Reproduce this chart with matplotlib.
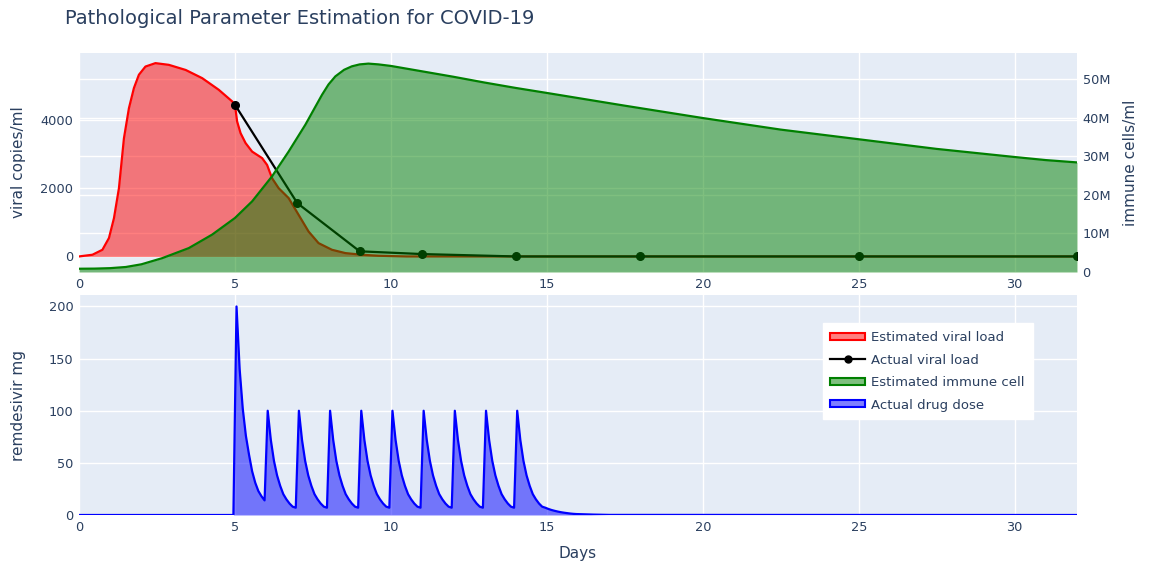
import matplotlib
matplotlib.use('Agg')
import matplotlib.pyplot as plt
from matplotlib.patches import Patch
from matplotlib.lines import Line2D
from matplotlib.ticker import FuncFormatter

# estimated viral load (copies/ml)
viral_days = [0, 0.43, 0.75, 0.96, 1.12, 1.28, 1.44, 1.60, 1.76, 1.92, 2.13, 2.45, 2.88,
              3.42, 3.95, 4.48, 4.91, 5.0, 5.07, 5.18, 5.34, 5.55, 5.87, 6.03, 6.19, 6.40,
              6.72, 7.04, 7.36, 7.68, 8.11, 8.54, 9.07, 9.6, 10.5, 32]
viral_est = [0, 50, 195, 540, 1120, 2000, 3460, 4340, 4930, 5320, 5560, 5660, 5610,
             5460, 5220, 4880, 4540, 4440, 3950, 3610, 3320, 3070, 2880, 2680, 2290, 2000,
             1710, 1220, 730, 390, 195, 98, 49, 20, 0, 0]

# measured viral load
actual_days = [5, 7, 9, 11, 14, 18, 25, 32]
actual_viral = [4440, 1560, 150, 70, 0, 0, 0, 0]

# estimated immune cells (millions / ml)
immune_days = [0, 0.5, 1.0, 1.5, 2.0, 2.67, 3.52, 4.27, 5.0, 5.55, 6.19, 6.72, 7.26, 7.79,
               8.0, 8.22, 8.5, 8.75, 9.0, 9.28, 9.6, 10, 11, 12, 13, 14, 15, 17.5, 20,
               22.5, 25, 27.5, 30, 31, 32]
immune_est = [0.85, 0.88, 1.0, 1.3, 2.0, 3.6, 6.2, 9.7, 14.0, 18.3, 24.8, 31.2, 38.2, 45.9,
              48.6, 50.7, 52.4, 53.3, 53.8, 54.0, 53.8, 53.4, 52.0, 50.6, 49.1, 47.7, 46.4,
              43.1, 39.9, 36.9, 34.4, 31.9, 29.8, 29.0, 28.4]

# remdesivir dose (mg)
dose_days = [0, 4.95,
             5.05, 5.15, 5.25, 5.35, 5.45, 5.55, 5.65, 5.75, 5.85, 5.95,
             6.05, 6.15, 6.25, 6.35, 6.45, 6.55, 6.65, 6.75, 6.85, 6.95,
             7.05, 7.15, 7.25, 7.35, 7.45, 7.55, 7.65, 7.75, 7.85, 7.95,
             8.05, 8.15, 8.25, 8.35, 8.45, 8.55, 8.65, 8.75, 8.85, 8.95,
             9.05, 9.15, 9.25, 9.35, 9.45, 9.55, 9.65, 9.75, 9.85, 9.95,
             10.05, 10.15, 10.25, 10.35, 10.45, 10.55, 10.65, 10.75, 10.85, 10.95,
             11.05, 11.15, 11.25, 11.35, 11.45, 11.55, 11.65, 11.75, 11.85, 11.95,
             12.05, 12.15, 12.25, 12.35, 12.45, 12.55, 12.65, 12.75, 12.85, 12.95,
             13.05, 13.15, 13.25, 13.35, 13.45, 13.55, 13.65, 13.75, 13.85, 13.95,
             14.05, 14.15, 14.25, 14.35, 14.45, 14.55, 14.65, 14.75, 14.85, 14.95,
             15.05, 15.15, 15.25, 15.35, 15.45, 15.55, 15.65, 15.75, 15.85, 15.95,
             16.5, 17.0, 32]
dose_mg = [0, 0,
           200, 140, 102, 76, 58, 42, 31, 23, 18, 14,
           100, 72, 52, 38, 28, 20, 15, 11, 8, 7,
           100, 72, 52, 38, 28, 20, 15, 11, 8, 7,
           100, 72, 52, 38, 28, 20, 15, 11, 8, 7,
           100, 72, 52, 38, 28, 20, 15, 11, 8, 7,
           100, 72, 52, 38, 28, 20, 15, 11, 8, 7,
           100, 72, 52, 38, 28, 20, 15, 11, 8, 7,
           100, 72, 52, 38, 28, 20, 15, 11, 8, 7,
           100, 72, 52, 38, 28, 20, 15, 11, 8, 7,
           100, 72, 52, 38, 28, 20, 15, 11, 8, 7,
           5.8, 4.8, 4.0, 3.3, 2.7, 2.2, 1.8, 1.4, 1.1, 0.9,
           0.4, 0.1, 0]

immune_cells = [v * 1e6 for v in immune_est]

BG = '#E5ECF6'
TXT = '#2a3f5f'
plt.rcParams['font.family'] = ['DejaVu Sans']
plt.rcParams['text.color'] = TXT
plt.rcParams['axes.labelcolor'] = TXT
plt.rcParams['xtick.color'] = TXT
plt.rcParams['ytick.color'] = TXT

fig = plt.figure(figsize=(11.52, 5.66), dpi=100)

top_rect = [0.0686, 0.5194, 0.8663, 0.3866]
bot_rect = [0.0686, 0.0901, 0.8663, 0.3887]
immune_max = 56.7e6


def style(ax):
    for s in ax.spines.values():
        s.set_visible(False)
    ax.tick_params(length=0, labelsize=9.3, pad=4)


# background axes holding the right-axis gridlines
axg = fig.add_axes(top_rect)
axg.set_facecolor(BG)
axg.set_xlim(0, 32)
axg.set_ylim(0, immune_max)
axg.set_yticks(range(0, 60000000, 10000000))
axg.set_xticks([])
axg.grid(axis='y', color='white', lw=1)
axg.tick_params(left=False, labelleft=False, length=0)
for s in axg.spines.values():
    s.set_visible(False)

ax1 = fig.add_axes(top_rect)
ax1.patch.set_visible(False)
style(ax1)
ax1.set_axisbelow(True)
ax1.grid(color='white', lw=1)
ax1.fill_between(viral_days, viral_est, 0, color='red', alpha=0.5, lw=0)
ax1.plot(viral_days, viral_est, color='red', lw=1.6)
ax1.plot(actual_days, actual_viral, color='black', lw=1.6, marker='o', markersize=5.5)
ax1.set_xlim(0, 32)
ax1.set_ylim(-456, 5951)
ax1.set_yticks([0, 2000, 4000])
ax1.set_xticks(range(0, 35, 5))
ax1.set_ylabel('viral copies/ml', fontsize=11)
ax1.yaxis.set_label_coords(-0.053, 0.5)

ax2 = ax1.twinx()
style(ax2)
ax2.fill_between(immune_days, immune_cells, 0, color='green', alpha=0.5, lw=0)
ax2.plot(immune_days, immune_cells, color='green', lw=1.6)
ax2.set_ylim(0, immune_max)
ax2.set_yticks(range(0, 60000000, 10000000))
ax2.yaxis.set_major_formatter(FuncFormatter(lambda v, p: '0' if v == 0 else f'{int(v / 1e6)}M'))
ax2.set_ylabel('immune cells/ml', fontsize=11)
ax2.yaxis.set_label_coords(1.046, 0.5)

ax3 = fig.add_axes(bot_rect)
style(ax3)
ax3.set_facecolor(BG)
ax3.set_axisbelow(True)
ax3.grid(color='white', lw=1)
ax3.fill_between(dose_days, dose_mg, 0, color='blue', alpha=0.5, lw=0)
ax3.plot(dose_days, dose_mg, color='blue', lw=1.6)
ax3.set_xlim(0, 32)
ax3.set_ylim(0, 211)
ax3.set_xticks(range(0, 35, 5))
ax3.set_yticks(range(0, 250, 50))
ax3.set_ylabel('remdesivir mg', fontsize=11)
ax3.yaxis.set_label_coords(-0.053, 0.5)
ax3.set_xlabel('Days', fontsize=11)
ax3.xaxis.set_label_coords(0.5, -0.141)

handles = [
    Patch(facecolor=(1, 0, 0, 0.5), edgecolor='red', lw=1.5),
    Line2D([], [], color='black', lw=1.6, marker='o', markersize=5),
    Patch(facecolor=(0, 0.5, 0, 0.5), edgecolor='green', lw=1.5),
    Patch(facecolor=(0, 0, 1, 0.5), edgecolor='blue', lw=1.5),
]
labels = ['Estimated viral load', 'Actual viral load', 'Estimated immune cell', 'Actual drug dose']
leg = ax3.legend(handles, labels, loc='upper left', bbox_to_anchor=(0.745, 0.872),
                 borderaxespad=0, fancybox=False, framealpha=1, facecolor='white',
                 edgecolor='white', fontsize=9.5, handlelength=2.6, handleheight=0.45,
                 labelspacing=0.72, handletextpad=0.5, borderpad=0.6)
for t in leg.get_texts():
    t.set_color(TXT)

fig.text(65 / 1152, 1 - 18 / 566, 'Pathological Parameter Estimation for COVID-19',
         fontsize=14, va='center', ha='left', color=TXT)

fig.savefig('out.png', dpi=100)
